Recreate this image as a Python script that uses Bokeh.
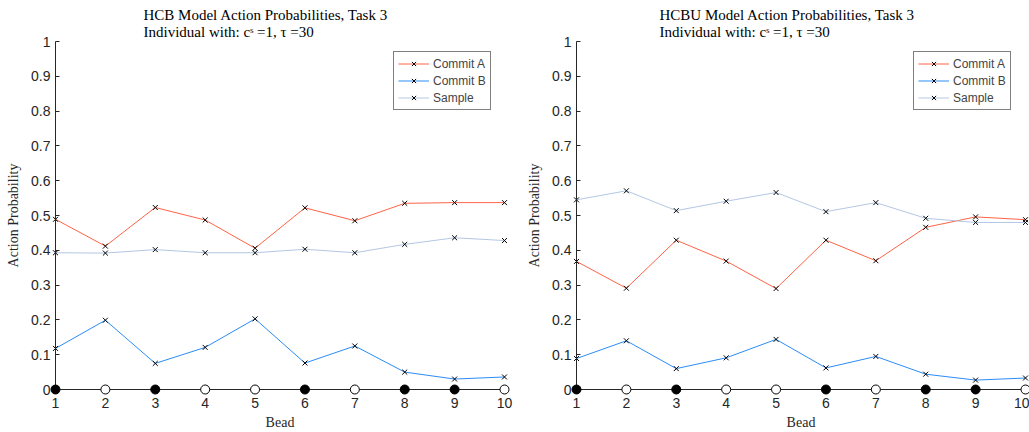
from bokeh.plotting import figure
from bokeh.models import Range1d, FixedTicker, Label, Legend, LegendItem
from bokeh.layouts import row
from bokeh.embed import file_html
from bokeh.resources import INLINE

beads = [1, 2, 3, 4, 5, 6, 7, 8, 9, 10]
bead_filled = [1, 0, 1, 0, 0, 1, 0, 1, 1, 0]

hcb_commit_a = [0.489, 0.412, 0.523, 0.487, 0.406, 0.522, 0.485, 0.535, 0.537, 0.537]
hcb_commit_b = [0.118, 0.199, 0.075, 0.121, 0.203, 0.076, 0.125, 0.050, 0.030, 0.036]
hcb_sample = [0.393, 0.392, 0.402, 0.393, 0.393, 0.403, 0.393, 0.417, 0.436, 0.428]

hcbu_commit_a = [0.368, 0.291, 0.429, 0.369, 0.290, 0.429, 0.370, 0.466, 0.496, 0.488]
hcbu_commit_b = [0.089, 0.140, 0.060, 0.091, 0.144, 0.062, 0.095, 0.044, 0.027, 0.033]
hcbu_sample = [0.545, 0.571, 0.514, 0.541, 0.566, 0.511, 0.537, 0.492, 0.480, 0.480]

y_ticks = [0, 0.1, 0.2, 0.3, 0.4, 0.5, 0.6, 0.7, 0.8, 0.9, 1]
y_tick_labels = ["0", "0.1", "0.2", "0.3", "0.4", "0.5", "0.6", "0.7", "0.8", "0.9", "1"]
x_tick_labels = ["1", "2", "3", "4", "5", "6", "7", "8", "9", "10"]

titles = [
    ("HCB Model Action Probabilities, Task 3", "Individual with: cˢ =1, τ =30"),
    ("HCBU Model Action Probabilities, Task 3", "Individual with: cˢ =1, τ =30"),
]

COL_A = "#FF6347"
COL_B = "#2B8CF7"
COL_S = "#B3C7E3"
AX = "#262626"
SERIF = "Liberation Serif"
SANS = "Liberation Sans"

PX_PER_BEAD = 449 / 9.0
PX_PER_UNIT = 348.0


def make_plot(title_lines, ca, cb, cs, width, axis_px, right_pad_px, title_x):
    x0 = 1 - axis_px / PX_PER_BEAD
    x1 = 10 + right_pad_px / PX_PER_BEAD
    p = figure(width=width, height=432, output_backend="svg", toolbar_location=None,
               x_range=Range1d(x0, x1),
               y_range=Range1d(-43 / PX_PER_UNIT, 1 + 41 / PX_PER_UNIT),
               min_border_left=0, min_border_right=0, min_border_top=0,
               min_border_bottom=0, background_fill_color="white",
               border_fill_color="white")
    p.outline_line_color = None
    p.grid.visible = False

    p.add_layout(Label(x=title_x, y=418, x_units="screen", y_units="screen",
                       text=title_lines[0], text_font=SERIF, text_font_size="15px",
                       text_color="black", text_baseline="middle", text_align="left"))
    p.add_layout(Label(x=title_x, y=401, x_units="screen", y_units="screen",
                       text=title_lines[1], text_font=SERIF, text_font_size="15px",
                       text_color="black", text_baseline="middle", text_align="left"))

    items = []
    for name, ys, col in (("Commit A", ca, COL_A), ("Commit B", cb, COL_B), ("Sample", cs, COL_S)):
        lr = p.line(beads, ys, line_color=col, line_width=1)
        sr = p.scatter(beads, ys, marker="x", size=7, line_color="black", line_width=1)
        items.append(LegendItem(label=name, renderers=[lr, sr]))

    fills = ["black" if f else "white" for f in bead_filled]
    p.scatter(beads, [0] * len(beads), marker="circle", size=9, fill_color=fills,
              line_color="black", line_width=1, level="overlay")

    legend = Legend(items=items, location=(393, 322), border_line_color="black",
                    border_line_width=1, label_text_font=SANS, label_text_font_size="12px",
                    glyph_width=31, glyph_height=15, label_height=15, spacing=2,
                    padding=4, label_standoff=4, margin=0, background_fill_alpha=1)
    p.add_layout(legend)

    p.xaxis.ticker = FixedTicker(ticks=beads)
    p.xaxis.major_label_overrides = {b: l for b, l in zip(beads, x_tick_labels)}
    p.yaxis.ticker = FixedTicker(ticks=y_ticks)
    p.yaxis.major_label_overrides = {t: l for t, l in zip(y_ticks, y_tick_labels)}
    p.xaxis.fixed_location = 0
    p.yaxis.fixed_location = 1
    p.xaxis.bounds = (1, 10)
    p.yaxis.bounds = (0, 1)
    p.xaxis.axis_label = "Bead"
    p.yaxis.axis_label = "Action Probability"
    for ax in (p.xaxis, p.yaxis):
        ax.axis_line_color = AX
        ax.major_tick_line_color = AX
        ax.major_tick_in = 4
        ax.major_tick_out = 0
        ax.minor_tick_line_color = None
        ax.major_label_text_font = SANS
        ax.major_label_text_font_size = "14px"
        ax.major_label_text_color = AX
        ax.axis_label_text_font = SERIF
        ax.axis_label_text_font_size = "14px"
        ax.axis_label_text_font_style = "normal"
        ax.axis_label_text_color = AX
    p.xaxis.major_label_standoff = 8
    p.xaxis.axis_label_standoff = 4
    p.yaxis.major_label_standoff = 5
    p.yaxis.axis_label_standoff = 7
    return p


p1 = make_plot(titles[0], hcb_commit_a, hcb_commit_b, hcb_sample, 520, 55, 16, 143)
p2 = make_plot(titles[1], hcbu_commit_a, hcbu_commit_b, hcbu_sample, 509, 56, 4, 139)

layout = row(p1, p2)
open("out.html", "w").write(file_html(layout, INLINE))
